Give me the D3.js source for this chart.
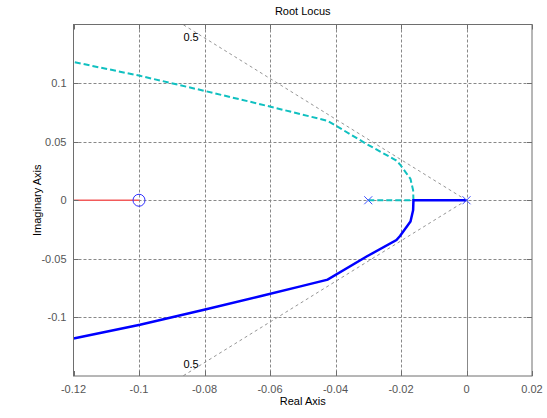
<!DOCTYPE html>
<html>
<head>
<meta charset="utf-8">
<script src="https://cdn.jsdelivr.net/npm/d3@7"></script>
<style>
  body { margin: 0; background: #fff; }
  text { font-family: Arial, "Liberation Sans", sans-serif; font-size: 11px; fill: #000; }
  .tick-label { fill: #555; }
</style>
</head>
<body>
<svg id="chart" width="547" height="418"></svg>
<script>
// axis ticks
const xTicks = [-0.12, -0.1, -0.08, -0.06, -0.04, -0.02, 0, 0.02]
const xTickLabels = ['-0.12', '-0.1', '-0.08', '-0.06', '-0.04', '-0.02', '0', '0.02']
const yTicks = [-0.1, -0.05, 0, 0.05, 0.1]
const yTickLabels = ['-0.1', '-0.05', '0', '0.05', '0.1']

// locus branches [real, imag]
const upperBranch = [[-0.03, 0], [-0.0162, 0], [-0.0163, 0.0085], [-0.0171, 0.0182], [-0.0203, 0.0305],
    [-0.0214, 0.0339], [-0.0305, 0.048], [-0.0424, 0.0678], [-0.0507, 0.0735], [-0.063, 0.082],
    [-0.0798, 0.0932], [-0.0997, 0.1062], [-0.12, 0.118]]
const lowerBranch = [[0, 0], [-0.0162, 0], [-0.0163, -0.0085], [-0.0171, -0.0182], [-0.0203, -0.0305],
    [-0.0214, -0.0339], [-0.0305, -0.048], [-0.0424, -0.0678], [-0.0507, -0.0735], [-0.063, -0.082],
    [-0.0798, -0.0932], [-0.0997, -0.1062], [-0.12, -0.118]]
const realBranch = [[-0.12, 0], [-0.1, 0]]
const poles = [[-0.03, 0], [0, 0]]
const zeros = [[-0.1, 0]]
const dampingValues = [0.5]

const svg = d3.select('#chart')
const plot = {left: 73.5, right: 532, top: 24.5, bottom: 376}

const x = d3.scaleLinear().domain([-0.12, 0.02]).range([plot.left, plot.right])
const y = d3.scaleLinear().domain([-0.15, 0.15]).range([plot.bottom, plot.top])

svg.append('clipPath').attr('id', 'clip')
    .append('rect')
    .attr('x', plot.left).attr('y', plot.top)
    .attr('width', plot.right - plot.left).attr('height', plot.bottom - plot.top)

// grid
const grid = svg.append('g').attr('stroke', '#888').attr('stroke-width', 1).attr('stroke-dasharray', '3,2')
grid.selectAll('.vgrid')
    .data(xTicks.slice(1, -1))
    .enter().append('line')
    .attr('x1', d => Math.round(x(d)) + 0.5).attr('x2', d => Math.round(x(d)) + 0.5)
    .attr('y1', plot.top).attr('y2', plot.bottom)
grid.selectAll('.hgrid')
    .data(yTicks)
    .enter().append('line')
    .attr('y1', d => Math.round(y(d)) + 0.5).attr('y2', d => Math.round(y(d)) + 0.5)
    .attr('x1', plot.left).attr('x2', plot.right)

// imaginary axis below real axis
svg.append('line')
    .attr('x1', Math.round(x(0)) + 0.5).attr('x2', Math.round(x(0)) + 0.5)
    .attr('y1', y(0)).attr('y2', plot.bottom)
    .attr('stroke', '#888')

// damping lines
const damp = svg.append('g').attr('clip-path', 'url(#clip)')
dampingValues.forEach(z => {
    const theta = Math.acos(z)
    const r = 0.15 / Math.sin(theta)
    ;[1, -1].forEach(s => {
        damp.append('line')
            .attr('x1', x(0)).attr('y1', y(0))
            .attr('x2', x(-r * Math.cos(theta))).attr('y2', y(s * r * Math.sin(theta)))
            .attr('stroke', '#8a8a8a').attr('stroke-width', 0.9).attr('stroke-dasharray', '3,3')
        const im = s * 0.1395
        svg.append('text')
            .attr('x', x(-Math.abs(im) / Math.tan(theta)) - 4)
            .attr('y', y(im))
            .attr('dy', '0.35em')
            .attr('text-anchor', 'end')
            .attr('fill', '#222')
            .text(z)
    })
})

const line = d3.line().x(d => x(d[0])).y(d => y(d[1]))
const loci = svg.append('g').attr('clip-path', 'url(#clip)').attr('fill', 'none')

loci.append('path')
    .datum(realBranch)
    .attr('d', line)
    .attr('stroke', '#f25a5a').attr('stroke-width', 1.4)
loci.append('path')
    .datum(upperBranch)
    .attr('d', line)
    .attr('stroke', '#10c0c0').attr('stroke-width', 2).attr('stroke-dasharray', '6,3')
loci.append('path')
    .datum(lowerBranch)
    .attr('d', line)
    .attr('stroke', '#0000ff').attr('stroke-width', 2.5)

// markers
svg.selectAll('.zero')
    .data(zeros)
    .enter().append('circle')
    .attr('cx', d => x(d[0])).attr('cy', d => y(d[1]))
    .attr('r', 6)
    .attr('fill', 'none').attr('stroke', '#3030ff').attr('stroke-width', 1)
svg.selectAll('.pole')
    .data(poles)
    .enter().append('path')
    .attr('transform', d => 'translate(' + x(d[0]) + ',' + y(d[1]) + ')')
    .attr('d', 'M-4,-4L4,4M-4,4L4,-4')
    .attr('stroke', '#4050ff').attr('stroke-width', 1)

// box and ticks
svg.append('rect')
    .attr('x', plot.left).attr('y', plot.top)
    .attr('width', plot.right - plot.left).attr('height', plot.bottom - plot.top)
    .attr('fill', 'none').attr('stroke', '#6e6e6e')

const ticks = svg.append('g').attr('stroke', '#6e6e6e')
xTicks.forEach(t => {
    const px = Math.round(x(t)) + 0.5
    ticks.append('line').attr('x1', px).attr('x2', px).attr('y1', plot.bottom).attr('y2', plot.bottom - 5)
    ticks.append('line').attr('x1', px).attr('x2', px).attr('y1', plot.top).attr('y2', plot.top + 5)
})
yTicks.forEach(t => {
    const py = Math.round(y(t)) + 0.5
    ticks.append('line').attr('y1', py).attr('y2', py).attr('x1', plot.left).attr('x2', plot.left + 5)
    ticks.append('line').attr('y1', py).attr('y2', py).attr('x1', plot.right).attr('x2', plot.right - 5)
})

svg.selectAll('.xlabel')
    .data(xTicks)
    .enter().append('text')
    .attr('class', 'tick-label')
    .attr('x', d => x(d)).attr('y', 393)
    .attr('text-anchor', 'middle')
    .text((d, i) => xTickLabels[i])
svg.selectAll('.ylabel')
    .data(yTicks)
    .enter().append('text')
    .attr('class', 'tick-label')
    .attr('x', plot.left - 7).attr('y', d => y(d))
    .attr('dy', '0.35em')
    .attr('text-anchor', 'end')
    .text((d, i) => yTickLabels[i])

svg.append('text').attr('x', (plot.left + plot.right) / 2).attr('y', 15)
    .attr('text-anchor', 'middle').text('Root Locus')
svg.append('text').attr('x', (plot.left + plot.right) / 2).attr('y', 405)
    .attr('text-anchor', 'middle').text('Real Axis')
svg.append('text')
    .attr('transform', 'translate(41,' + y(0) + ') rotate(-90)')
    .attr('text-anchor', 'middle').text('Imaginary Axis')
</script>
</body>
</html>
